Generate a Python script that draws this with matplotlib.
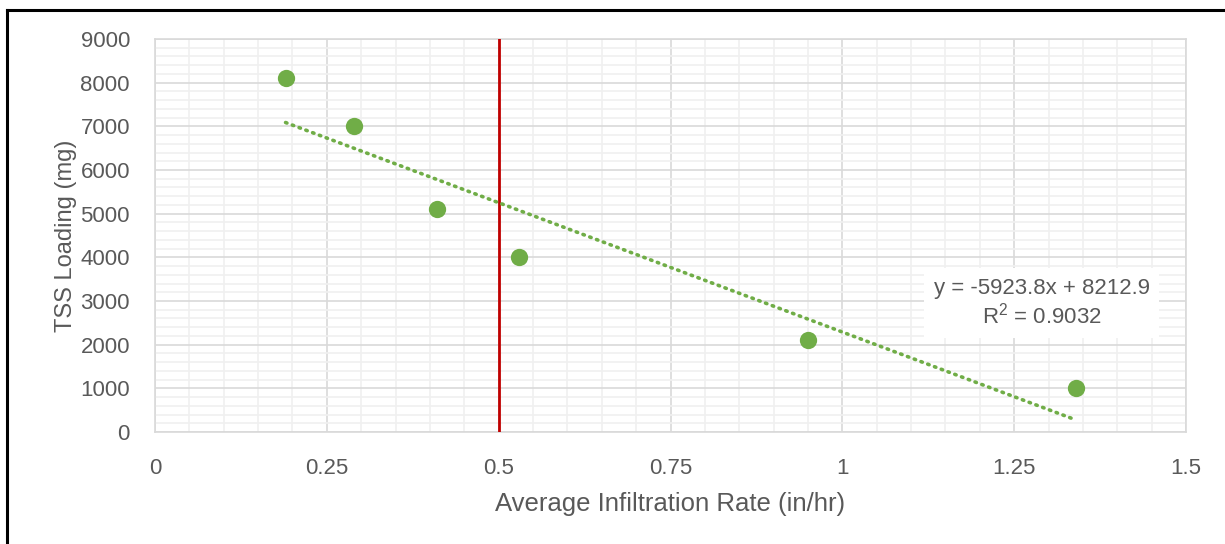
"""TSS loading vs. average infiltration rate, scatter with linear trendline."""

import matplotlib

matplotlib.use("Agg")
import matplotlib.pyplot as plt
import numpy as np
from matplotlib.lines import Line2D
from matplotlib.ticker import MultipleLocator

plt.rcParams["font.family"] = ["Liberation Sans", "DejaVu Sans"]

# data
infiltration_rate = [0.19, 0.29, 0.41, 0.53, 0.95, 1.34]
tss_loading = [8100, 7000, 5100, 4000, 2100, 1000]
threshold_rate = 0.5

x_ticks = [0, 0.25, 0.5, 0.75, 1, 1.25, 1.5]
x_tick_labels = ["0", "0.25", "0.5", "0.75", "1", "1.25", "1.5"]
y_ticks = [0, 1000, 2000, 3000, 4000, 5000, 6000, 7000, 8000, 9000]

GREEN = "#70AD47"
RED = "#C00000"
TEXT = "#595959"

fig = plt.figure(figsize=(12.25, 5.44), dpi=100)
ax = fig.add_axes([0.1265, 0.2059, 0.8417, 0.7224])

# grid
ax.set_xlim(0, 1.5)
ax.set_ylim(0, 9000)
ax.set_xticks(x_ticks)
ax.set_xticklabels(x_tick_labels)
ax.set_yticks(y_ticks)
ax.xaxis.set_minor_locator(MultipleLocator(0.05))
ax.yaxis.set_minor_locator(MultipleLocator(200))
ax.grid(which="minor", color="#F0F0F0", linewidth=1.2, zorder=0)
ax.grid(which="major", color="#D9D9D9", linewidth=1.2, zorder=0)
ax.set_axisbelow(True)
ax.tick_params(which="both", length=0)
ax.tick_params(axis="x", pad=19, labelsize=16, labelcolor=TEXT)
ax.tick_params(axis="y", pad=18, labelsize=16, labelcolor=TEXT)
for s in ax.spines.values():
    s.set_color("#D9D9D9")
    s.set_linewidth(1.2)

# threshold line
ax.axvline(threshold_rate, color=RED, linewidth=2, zorder=3)

# linear trendline
slope, intercept = np.polyfit(infiltration_rate, tss_loading, 1)
xs = np.array([min(infiltration_rate), max(infiltration_rate)])
ax.plot(xs, slope * xs + intercept, color=GREEN, linewidth=2.6,
        linestyle=(0, (0.4, 1.6)), dash_capstyle="round", zorder=4)

ax.scatter(infiltration_rate, tss_loading, s=155, color=GREEN, zorder=5,
           linewidths=0)

# equation label
y_pred = slope * np.array(infiltration_rate) + intercept
ss_res = np.sum((np.array(tss_loading) - y_pred) ** 2)
ss_tot = np.sum((np.array(tss_loading) - np.mean(tss_loading)) ** 2)
r2 = 1 - ss_res / ss_tot
ax.text(1.29, 2950,
        f"y = {slope:.1f}x + {intercept:.1f}\n$\\mathregular{{R^2}}$ = {r2:.4f}",
        ha="center", va="center", fontsize=16, color=TEXT, linespacing=1.2,
        bbox=dict(facecolor="white", edgecolor="none", pad=7), zorder=6)

ax.set_xlabel("Average Infiltration Rate (in/hr)", fontsize=18.5, color=TEXT)
ax.set_ylabel("TSS Loading (mg)", fontsize=17, color=TEXT)
ax.xaxis.set_label_coords(0.5, -0.152)
ax.yaxis.set_label_coords(-0.076, 0.5)

# black frame on top and left of the image
fig.add_artist(Line2D([0.0055, 1.0], [0.9825, 0.9825], color="black",
                      linewidth=2.2, transform=fig.transFigure))
fig.add_artist(Line2D([0.0055, 0.0055], [0.0, 0.9825], color="black",
                      linewidth=2.2, transform=fig.transFigure))

fig.savefig("out.png", dpi=100)
plt.close(fig)
